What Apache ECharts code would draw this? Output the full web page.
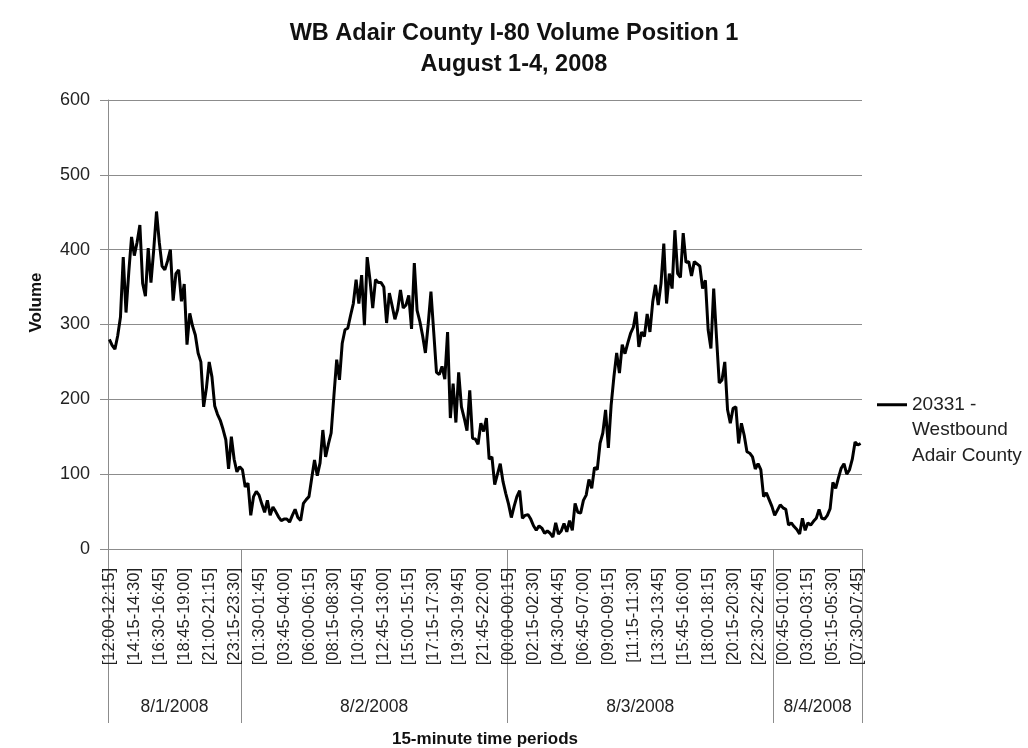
<!DOCTYPE html>
<html>
<head>
<meta charset="utf-8">
<script src="https://cdn.jsdelivr.net/npm/echarts@6/dist/echarts.min.js"></script>
<style>
  html, body { margin: 0; padding: 0; background: #fff; }
  #chart { width: 1028px; height: 748px; }
</style>
</head>
<body>
<div id="chart"></div>
<script>
  // volumes per 15-minute period
  const day1Values = [280, 272, 267, 285, 310, 390, 316, 370, 417, 392, 410, 433, 355, 338, 402, 356,
    400, 451, 410, 378, 373, 385, 400, 332, 368, 373, 331, 354, 273, 315, 298, 286,
    262, 250, 190, 215, 250, 230, 191, 180, 172, 160, 146, 107, 150, 120, 103, 110];
  const day2Values = [106, 83, 88, 45, 70, 77, 72, 60, 49, 65, 45, 56, 50, 43, 38, 40,
    40, 36, 45, 53, 42, 38, 61, 66, 70, 95, 119, 98, 115, 159, 123, 140,
    155, 205, 253, 226, 275, 293, 295, 312, 328, 360, 328, 366, 299, 390, 360, 322,
    360, 356, 356, 350, 302, 342, 325, 307, 320, 346, 322, 326, 339, 294, 382, 319,
    304, 285, 262, 300, 344, 290, 236, 233, 244, 227, 290, 175, 221, 169, 236, 190,
    175, 158, 212, 148, 147, 140, 168, 157, 175, 120, 123, 86, 100, 114, 90, 74];
  const day3Values = [60, 42, 57, 70, 78, 41, 45, 46, 40, 31, 25, 31, 28, 21, 24, 21,
    16, 35, 20, 24, 34, 23, 38, 25, 61, 49, 48, 65, 72, 93, 81, 109,
    106, 141, 155, 186, 135, 192, 230, 262, 235, 273, 261, 275, 288, 296, 317, 270,
    290, 284, 314, 290, 330, 353, 326, 355, 408, 328, 368, 348, 426, 368, 363, 422,
    383, 384, 365, 384, 381, 378, 348, 359, 293, 268, 348, 284, 222, 226, 250, 186,
    168, 188, 190, 141, 168, 152, 130, 128, 123, 107, 114, 106, 70, 75, 66, 57];
  const day4Values = [45, 52, 59, 55, 53, 32, 35, 30, 26, 20, 41, 25, 35, 32, 37, 41,
    53, 41, 40, 45, 54, 89, 81, 95, 108, 114, 100, 106, 120, 143, 139, 141];

  const dayNames = ['8/1/2008', '8/2/2008', '8/3/2008', '8/4/2008'];
  const dayStarts = [0, 48, 144, 240, 272];   // period index where each day starts
  const startMinute = 12 * 60;               // first period 12:00-12:15
  const yTicks = [0, 100, 200, 300, 400, 500, 600];
  const seriesName = '20331 - Westbound Adair County';

  const values = day1Values.concat(day2Values, day3Values, day4Values);

  function hm(m) {
    m = m % 1440;
    const h = Math.floor(m / 60), mm = m % 60;
    return (h < 10 ? '0' : '') + h + ':' + (mm < 10 ? '0' : '') + mm;
  }
  const periods = values.map((v, i) => {
    const m = startMinute + i * 15;
    return '[' + hm(m) + '-' + hm(m + 15) + ']';
  });
  const dayMids = dayNames.map((d, i) => (dayStarts[i] + dayStarts[i + 1]) / 2);

  const font = '"Liberation Sans", Arial, sans-serif';
  const gray = '#8c8c8c';

  const chart = echarts.init(document.getElementById('chart'));
  chart.setOption({
    backgroundColor: '#fff',
    textStyle: { fontFamily: font, color: '#222' },
    title: {
      text: 'WB Adair County I-80 Volume Position 1\nAugust 1-4, 2008',
      left: 'center',
      top: 13,
      textStyle: { fontSize: 23.5, fontWeight: 'bold', lineHeight: 31, color: '#111', fontFamily: font }
    },
    legend: {
      orient: 'vertical',
      left: 877,
      top: 341,
      padding: 0,
      itemWidth: 30,
      itemHeight: 3,
      icon: 'path://M0,0H30V3H0Z',
      data: [seriesName],
      // two blank lines first so the icon sits level with the first text line
      formatter: () => '\n\n20331 -\nWestbound\nAdair County',
      textStyle: { fontSize: 19, lineHeight: 25.5, color: '#222', fontFamily: font }
    },
    grid: { left: 108, right: 166, top: 100, bottom: 199, containLabel: false, outerBoundsMode: 'none' },
    xAxis: [{
      type: 'category',
      data: periods,
      boundaryGap: true,
      axisLine: { lineStyle: { color: gray, width: 1 } },
      axisTick: { show: false },
      splitLine: { show: false },
      axisLabel: {
        interval: 8,
        rotate: 90,
        margin: 19,
        fontSize: 16.5,
        color: '#222',
        fontFamily: font
      }
    }, {
      type: 'value',
      min: 0,
      max: 272,
      position: 'bottom',
      name: '15-minute time periods',
      nameLocation: 'middle',
      nameGap: 182,
      nameTextStyle: { fontSize: 17, fontWeight: 'bold', color: '#111', fontFamily: font },
      axisLine: { show: false },
      splitLine: { show: false },
      axisTick: { show: true, customValues: dayStarts, length: 174, lineStyle: { color: gray } },
      axisLabel: {
        customValues: dayMids,
        margin: 149,
        fontSize: 17.5,
        color: '#222',
        fontFamily: font,
        formatter: function (v) {
          const i = dayMids.indexOf(v);
          return i >= 0 ? dayNames[i] : '';
        }
      }
    }],
    yAxis: {
      type: 'value',
      min: 0,
      max: 600,
      interval: 100,
      name: 'Volume',
      nameLocation: 'middle',
      nameGap: 63,
      nameTextStyle: { fontSize: 17, fontWeight: 'bold', color: '#111', fontFamily: font, padding: [0, 0, 0, 44] },
      axisLine: { show: true, lineStyle: { color: gray } },
      axisTick: { show: true, length: 8, lineStyle: { color: gray } },
      splitLine: { lineStyle: { color: gray } },
      axisLabel: {
        margin: 18,
        fontSize: 18,
        color: '#222',
        fontFamily: font,
        formatter: v => yTicks.indexOf(v) >= 0 ? String(v) : ''
      }
    },
    series: [{
      name: seriesName,
      type: 'line',
      xAxisIndex: 0,
      data: values,
      symbol: 'none',
      smooth: false,
      lineStyle: { color: '#000', width: 3 },
      itemStyle: { color: '#000' },
      animation: false
    }],
    animation: false
  });
</script>
</body>
</html>
